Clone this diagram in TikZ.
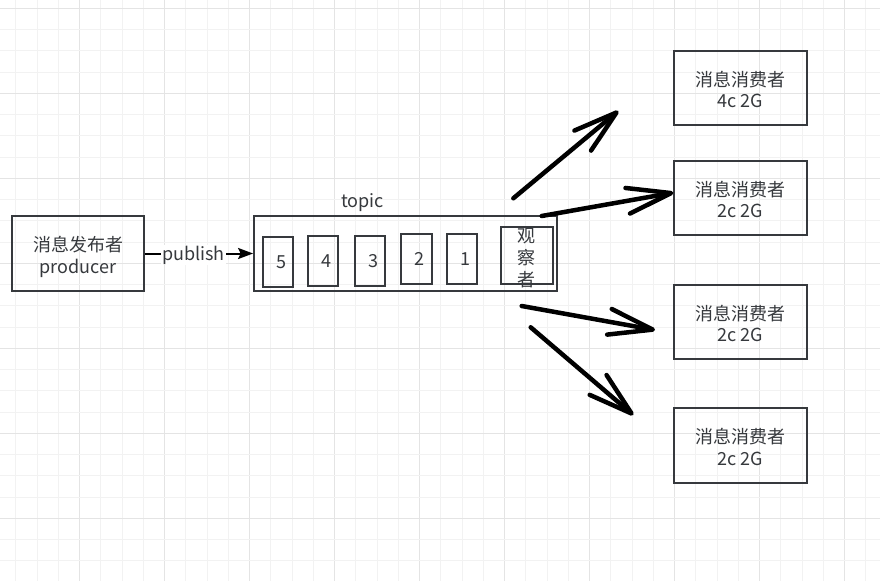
\documentclass[tikz,border=0pt]{standalone}
\usepackage{fontspec}
\setmainfont{Noto Sans CJK SC}
\usetikzlibrary{arrows.meta}
\definecolor{stroke}{HTML}{36393D}
\definecolor{gridminor}{HTML}{F2F2F2}
\definecolor{gridmajor}{HTML}{E4E4E4}
\newcommand\dglabelfont{\fontsize{18}{21.5}\selectfont}
\newcommand\dgtwo[2]{\raisebox{-4.5pt}[\height][\depth]{\begin{tabular}{@{}c@{}}#1\\#2\end{tabular}}}
\begin{document}
\begin{tikzpicture}[x=1pt,y=-1pt,
  plainbox/.style={draw=stroke, line width=1.8pt, inner sep=0pt, align=center, font=\dglabelfont, text=stroke},
  cell/.style={plainbox, minimum width=30.6pt, minimum height=50pt},
  consumer/.style={plainbox, minimum width=132.7pt, minimum height=74.6pt},
  bigarrow/.style={draw=black, line width=4.5pt, line cap=round, -{Straight Barb[length=44pt,width=26pt,round]}},
  txt/.style={font=\dglabelfont, text=stroke, inner sep=1pt, align=center}]
\useasboundingbox (0,0) rectangle (880,581);
\fill[white] (0,0) rectangle (880,581);
% grid
\foreach \k in {0,...,42} {
  \pgfmathsetmacro\gx{-5.3+21.25*\k}
  \pgfmathtruncatemacro\m{mod(\k,4)}
  \ifnum\m=0
    \draw[gridmajor, line width=1pt] (\gx,0) -- (\gx,581);
  \else
    \draw[gridminor, line width=1pt] (\gx,0) -- (\gx,581);
  \fi
}
\foreach \k in {0,...,27} {
  \pgfmathsetmacro\gy{8.3+21.25*\k}
  \pgfmathtruncatemacro\m{mod(\k,4)}
  \ifnum\m=0
    \draw[gridmajor, line width=1pt] (0,\gy) -- (880,\gy);
  \else
    \draw[gridminor, line width=1pt] (0,\gy) -- (880,\gy);
  \fi
}
% producer
\node[plainbox, minimum width=132pt, minimum height=75pt] (prod) at (78,253.5) {\dgtwo{消息发布者}{producer}};
% topic
\node[plainbox, minimum width=303pt, minimum height=75pt] (topic) at (405.5,253.5) {};
\node[txt] (topiclbl) at (362.7,202.5) {topic};
\node[cell] (c5) at (278,261.7) {\hspace*{7pt}5};
\node[cell] (c4) at (323,261.3) {\hspace*{7pt}4};
\node[cell] (c3) at (370,261.3) {\hspace*{7pt}3};
\node[cell] (c2) at (416.3,259.3) {\hspace*{7pt}2};
\node[cell] (c1) at (462,259.3) {\hspace*{7pt}1};
\node[plainbox, minimum width=52pt, minimum height=57.6pt] (obs) at (526.7,255.5) {};
\node[txt, inner sep=0pt, font=\fontsize{18}{22}\selectfont] (obstext) at (526.7,258) {观\\察\\者};
% publish
\draw[stroke, line width=2pt, -{Stealth[length=15pt,width=11pt,inset=2.5pt]}] (prod.east) -- node[txt, fill=white, pos=0.45, yshift=-1.5pt] (pub) {publish} (topic.west);
% consumers
\node[consumer] (k1) at (740.3,88) {\dgtwo{消息消费者}{4c 2G}};
\node[consumer] (k2) at (740.3,197.9) {\dgtwo{消息消费者}{2c 2G}};
\node[consumer] (k3) at (740.3,322) {\dgtwo{消息消费者}{2c 2G}};
\node[consumer] (k4) at (740.3,445.5) {\dgtwo{消息消费者}{2c 2G}};
% big arrows
\coordinate (a1s) at (513.3,198.3); \coordinate (a1t) at (618.3,111);
\coordinate (a2s) at (541.7,216);   \coordinate (a2t) at (673.3,192.7);
\coordinate (a3s) at (521.7,306);   \coordinate (a3t) at (655,330);
\coordinate (a4s) at (530.7,327.3); \coordinate (a4t) at (633.3,415);
\draw[bigarrow] (a1s) -- (a1t);
\draw[bigarrow] (a2s) -- (a2t);
\draw[bigarrow] (a3s) -- (a3t);
\draw[bigarrow] (a4s) -- (a4t);
\end{tikzpicture}
\end{document}
